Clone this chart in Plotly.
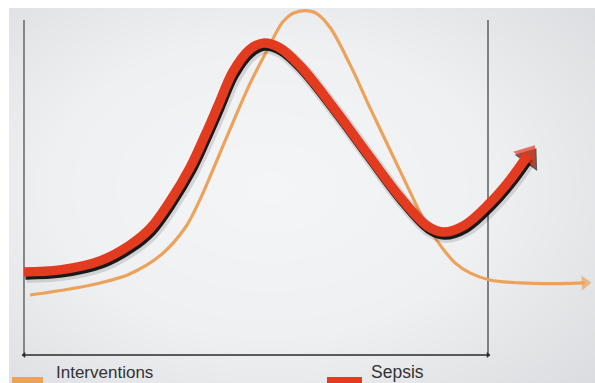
import numpy as np
import plotly.graph_objects as go

# Course over time (arbitrary units): sepsis severity vs. intensity of interventions
sepsis_t = [0.0, 0.78, 1.64, 2.28, 2.72, 3.15, 3.58, 3.9, 4.2, 4.5, 4.85, 5.15,
            5.5, 5.95, 6.66, 7.39, 8.10, 8.69, 9.03, 9.50, 10.04, 10.47, 10.86]
sepsis_level = [2.48, 2.54, 2.81, 3.28, 3.78, 4.6, 5.6, 6.55, 7.5, 8.45, 9.1, 9.31,
                9.18, 8.63, 7.40, 6.03, 4.72, 3.85, 3.67, 3.88, 4.54, 5.22, 5.97]

interv_t = [0.13, 0.99, 1.64, 2.28, 2.93, 3.47, 3.79, 4.16, 4.50, 4.87, 5.24, 5.58,
            5.8, 6.05, 6.3, 6.59, 7.03, 7.46, 7.89, 8.32, 8.64, 8.97, 9.29, 9.61,
            10.04, 10.69, 11.55, 12.09]
interv_level = [1.79, 1.97, 2.15, 2.42, 2.96, 3.79, 4.63, 5.82, 6.93, 8.1, 9.1, 9.95,
                10.2, 10.28, 10.2, 9.79, 8.66, 7.37, 6.12, 4.87, 3.97, 3.28, 2.75, 2.45,
                2.24, 2.15, 2.13, 2.15]

legend_labels = ["Interventions", "Sepsis"]

RED = "#e33b1f"
ORANGE = "#eda25c"

W, H = 595, 383
# axis windows: frame spans t 0..10 and level 0..10
X_RANGE = [-0.517, 12.306]
Y_RANGE = [-0.836, 10.597]
px_per_t = W / (X_RANGE[1] - X_RANGE[0])
px_per_l = H / (Y_RANGE[1] - Y_RANGE[0])

fig = go.Figure()

# soft vignette backdrop
gx = np.linspace(X_RANGE[0], X_RANGE[1], 60)
gy = np.linspace(Y_RANGE[0], Y_RANGE[1], 40)
GX, GY = np.meshgrid(gx, gy)
cx, cy = 5.3, 5.0
r = np.sqrt(((GX - cx) / 7.5) ** 2 + ((GY - cy) / 7.0) ** 2)
fig.add_trace(go.Heatmap(
    x=gx, y=gy, z=r, zsmooth="best", showscale=False, hoverinfo="skip",
    colorscale=[[0, "#f4f5f7"], [0.5, "#eef0f2"], [1, "#dadcdf"]],
))

# frame: two verticals and the time axis
fig.add_trace(go.Scatter(x=[0, 0], y=[0, 10], mode="lines",
                         line=dict(color="#6e6e72", width=1.6), hoverinfo="skip"))
fig.add_trace(go.Scatter(x=[10, 10], y=[0, 10], mode="lines",
                         line=dict(color="#66666a", width=1.6), hoverinfo="skip"))
fig.add_trace(go.Scatter(x=[0, 10], y=[0, 0], mode="lines+markers",
                         line=dict(color="#2a2a2a", width=1.6),
                         marker=dict(symbol=["triangle-left", "triangle-right"], size=5,
                                     color="#2a2a2a"),
                         hoverinfo="skip"))

# interventions curve with arrow tip
n_i = len(interv_t)
fig.add_trace(go.Scatter(
    x=interv_t, y=interv_level, mode="lines+markers", line_shape="spline",
    line=dict(color=ORANGE, width=3.2, smoothing=1.0),
    marker=dict(symbol="triangle-up", size=[0] * (n_i - 1) + [13], color=ORANGE,
                angleref="previous", line=dict(width=0)),
    hoverinfo="skip",
))

# sepsis curve: soft drop shadow, dark edge, then red stroke
n_s = len(sepsis_t)
for (dx, dy, w, col, tip) in [(2.5, 4.0, 14, "rgba(0,0,0,0.12)", 0),
                              (1.5, 3.0, 9.5, "rgba(10,10,10,0.92)", 24)]:
    ox = dx / px_per_t
    oy = dy / px_per_l
    fig.add_trace(go.Scatter(
        x=[t + ox for t in sepsis_t], y=[v - oy for v in sepsis_level],
        mode="lines+markers", line_shape="spline",
        line=dict(color=col, width=w, smoothing=1.0),
        marker=dict(symbol="triangle-up", size=[0] * (n_s - 1) + [tip],
                    color=col, angleref="previous", line=dict(width=0)),
        hoverinfo="skip",
    ))
fig.add_trace(go.Scatter(
    x=sepsis_t, y=sepsis_level, mode="lines+markers", line_shape="spline",
    line=dict(color=RED, width=9.5, smoothing=1.0),
    marker=dict(symbol="triangle-up", size=[0] * (n_s - 1) + [24], color=RED,
                angleref="previous", line=dict(width=0)),
    hoverinfo="skip",
))

# legend row along the bottom edge
shapes = [
    dict(type="rect", xref="paper", yref="paper", x0=12 / W, x1=43 / W,
         y0=0, y1=6 / H, fillcolor=ORANGE, line=dict(width=0)),
    dict(type="rect", xref="paper", yref="paper", x0=327 / W, x1=362 / W,
         y0=0, y1=6 / H, fillcolor=RED, line=dict(width=0)),
    # white margin strips on the top and left
    dict(type="rect", xref="paper", yref="paper", x0=0, x1=1, y0=1 - 8 / H, y1=1,
         fillcolor="white", line=dict(width=0), layer="above"),
    dict(type="rect", xref="paper", yref="paper", x0=0, x1=9 / W, y0=0, y1=1,
         fillcolor="white", line=dict(width=0), layer="above"),
]
annotations = [
    dict(text=legend_labels[0], xref="paper", yref="paper", x=54 / W, y=-1 / H,
         xanchor="left", yanchor="bottom", showarrow=False,
         font=dict(family="Liberation Sans, Arial", size=17, color="#333333")),
    dict(text=legend_labels[1], xref="paper", yref="paper", x=369 / W, y=-1 / H,
         xanchor="left", yanchor="bottom", showarrow=False,
         font=dict(family="Liberation Sans, Arial", size=17.5, color="#333333")),
]

fig.update_layout(
    width=W, height=H, margin=dict(l=0, r=0, t=0, b=0),
    paper_bgcolor="#e8eaed", plot_bgcolor="#eef0f2",
    showlegend=False, shapes=shapes, annotations=annotations,
    xaxis=dict(range=X_RANGE, visible=False, fixedrange=True),
    yaxis=dict(range=Y_RANGE, visible=False, fixedrange=True),
)

fig.write_html("out.html")
